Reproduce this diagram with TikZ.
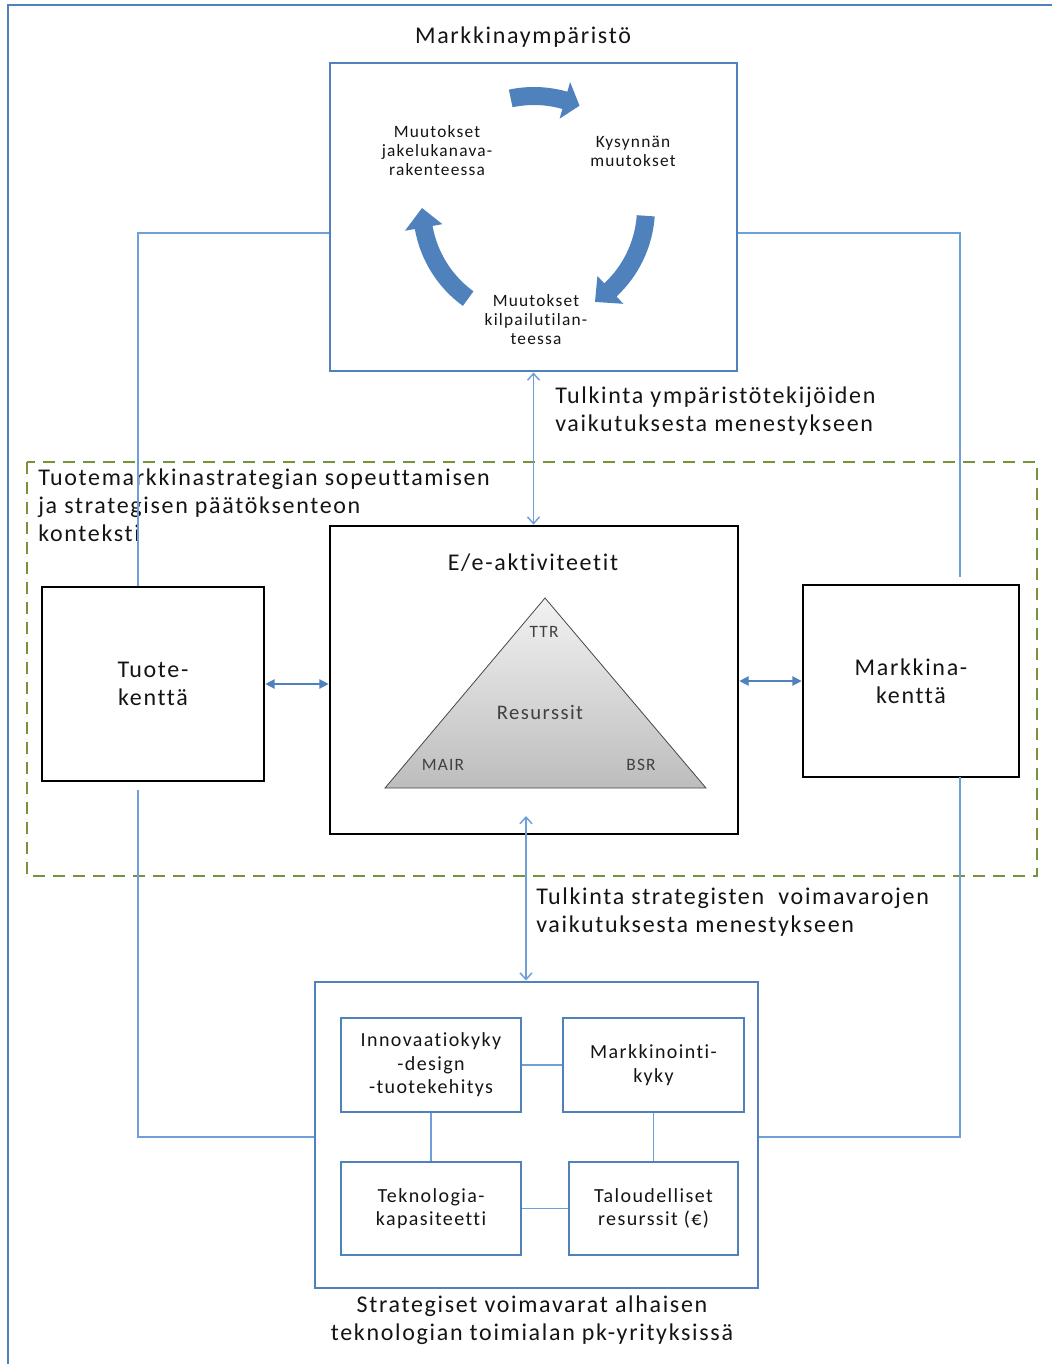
\documentclass[tikz,border=0pt]{standalone}
\usepackage{fontspec}
\setmainfont{Carlito}[LetterSpace=7, Ligatures=NoCommon]
\usetikzlibrary{arrows.meta}
\definecolor{frameblue}{HTML}{4F81BD}
\definecolor{lineblue}{HTML}{6F9FD8}
\definecolor{ctxgreen}{HTML}{77933C}
\definecolor{txt}{HTML}{141414}
% one clockwise cycle arrow: start angle, head base angle, tip angle
\newcommand\cycarrow[3]{%
  \fill[frameblue] (#1:121) arc[start angle=#1, end angle=#2, radius=121]
    -- (#2:131) -- (#3:112) -- (#2:93) -- (#2:103)
    arc[start angle=#2, end angle=#1, radius=103] -- cycle;}
\begin{document}
\begin{tikzpicture}[x=0.75pt,y=-0.75pt,
  every node/.style={text=txt, align=center, inner sep=0pt},
  sz/.style 2 args={minimum width=#1*0.75pt, minimum height=#2*0.75pt},
  bigtxt/.style={font=\fontsize{18}{21}\selectfont},
  cyctxt/.style={font=\fontsize{13}{14.25}\selectfont},
  celltxt/.style={font=\fontsize{15}{17.6}\selectfont},
  tritxt/.style={font=\fontsize{13}{15}\selectfont, text=black!75},
  bluebox/.style={draw=frameblue, line width=2.2pt},
  blackbox/.style={draw=black, line width=2pt},
  cell/.style={draw=frameblue, line width=2pt, celltxt},
  link/.style={draw=lineblue, line width=1.1pt},
  openboth/.style={link, {Straight Barb[length=5pt,width=9pt]}-{Straight Barb[length=5pt,width=9pt]}},
  fillboth/.style={link, draw=frameblue, {Triangle[length=7pt,width=7pt]}-{Triangle[length=7pt,width=7pt]}},
]
\useasboundingbox (0,0) rectangle (1052,1364);

% outer frame
\draw[frameblue, line width=2pt] (1052,5) -- (8,5) -- (8,1364);

% context area
\draw[ctxgreen, line width=1.9pt, dash pattern=on 9pt off 6pt] (27,462) rectangle (1037,876);
\node[bigtxt, align=left, anchor=north west] (ctx) at (38,469)
  {Tuotemarkkinastrategian sopeuttamisen\\ja strategisen päätöksenteon\\konteksti};

% market environment
\node[bigtxt] (envtitle) at (523,37) {Markkinaympäristö};
\node[bluebox, sz={407}{308}] (top) at (533.5,217) {};
\node[cyctxt] (jak) at (437,151) {Muutokset\\jakelukanava-\\rakenteessa};
\node[cyctxt] (kys) at (633,151) {Kysynnän\\muutokset};
\node[cyctxt] (kil) at (536,320) {Muutokset\\kilpailutilan-\\teessa};
\begin{scope}[shift={(534,208)}, y=0.75pt]
  \cycarrow{102}{74}{66}
  \cycarrow{-4}{-47}{-57}
  \cycarrow{234}{190}{180}
\end{scope}

% central activities
\node[blackbox, sz={408}{308}] (ee) at (534,680) {};
\node[bigtxt] (eetitle) at (533,563) {E/e-aktiviteetit};
\coordinate (apex) at (545,598);
\coordinate (bl) at (385,788);
\coordinate (br) at (706,788);
\shade[top color=gray!10, bottom color=gray!52, draw=gray!55!black, line width=0.6pt]
  (apex) -- (bl) -- (br) -- cycle;
\node[tritxt] (ttr) at (544,632) {TTR};
\node[font=\fontsize{15.5}{18}\selectfont, text=black!75] (res) at (540,712) {Resurssit};
\node[tritxt] (mair) at (443,765) {MAIR};
\node[tritxt] (bsr) at (641,765) {BSR};

% product and market fields
\node[blackbox, sz={222}{194}, bigtxt] (tuote) at (153,684) {Tuote-\\kenttä};
\node[blackbox, sz={216}{192}, bigtxt] (mkk) at (911,681) {Markkina-\\kenttä};

% strategic resources
\node[bluebox, sz={443}{306}] (res2) at (536.5,1135) {};
\node[cell, sz={180}{94}] (inno) at (431,1065) {Innovaatiokyky\\-design\\-tuotekehitys};
\node[cell, sz={181}{94}] (mark) at (653.5,1065) {Markkinointi-\\kyky};
\node[cell, sz={180}{93}] (tek) at (431,1208.5) {Teknologia-\\kapasiteetti};
\node[cell, sz={169}{93}] (tal) at (653.5,1208.5) {Taloudelliset\\resurssit (€)};
\draw[link] (inno.east) -- (inno.east -| mark.west);
\draw[link] (inno.south) -- (tek.north);
\draw[link] (mark.south) -- (mark.south |- tal.north);
\draw[link] (tek.east) -- (tek.east -| tal.west);
\node[bigtxt] (restitle) at (532,1320) {Strategiset voimavarat alhaisen\\teknologian toimialan pk-yrityksissä};

% interpretation arrows
\draw[openboth] (top.south) -- (top.south |- ee.north);
\node[bigtxt, align=left, anchor=west] (tulk1) at (555,411)
  {Tulkinta ympäristötekijöiden\\vaikutuksesta menestykseen};
\coordinate (lowtop) at (526,816);
\draw[openboth] (lowtop) -- (lowtop |- res2.north);
\node[bigtxt, align=left, anchor=west] (tulk2) at (536,912)
  {Tulkinta strategisten\ \ voimavarojen\\vaikutuksesta menestykseen};

% side arrows
\draw[fillboth] (tuote.east) -- (tuote.east -| ee.west);
\draw[fillboth] (ee.east |- mkk.west) -- (mkk.west);

% feedback lines
\coordinate (lk1) at (138,233);
\draw[link] (top.west |- lk1) -- (lk1) -- (lk1 |- tuote.north);
\coordinate (lk2) at (138,790);
\coordinate (lk3) at (138,1137);
\draw[link] (lk2) -- (lk3) -- (lk3 -| res2.west);
\coordinate (rk1) at (960,233);
\coordinate (rk2) at (960,577);
\draw[link] (top.east |- rk1) -- (rk1) -- (rk2);
\coordinate (rk3) at (960,777);
\coordinate (rk4) at (960,1137);
\draw[link] (rk3) -- (rk4) -- (rk4 -| res2.east);
\end{tikzpicture}
\end{document}
